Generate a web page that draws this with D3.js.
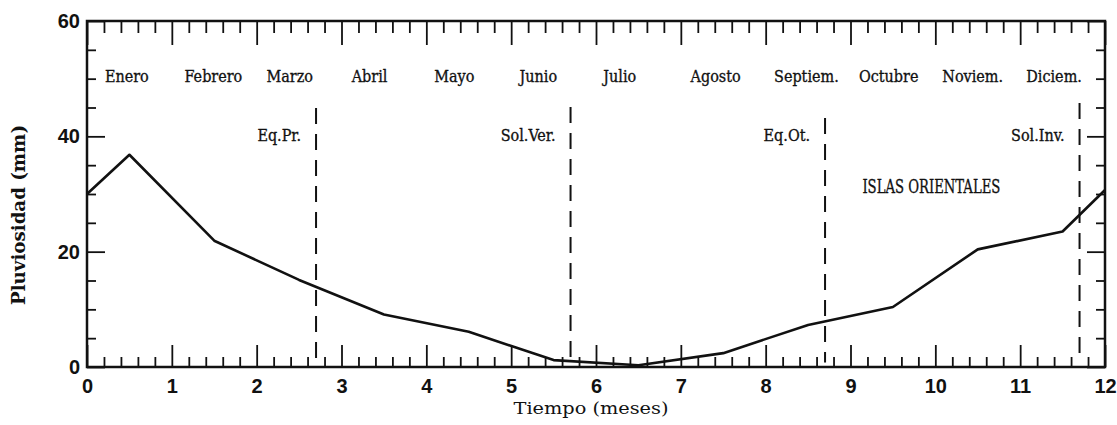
<!DOCTYPE html>
<html>
<head>
<meta charset="utf-8">
<script src="https://cdn.jsdelivr.net/npm/d3@7"></script>
<style>
  body { margin: 0; background: #fff; }
  svg { display: block; }
  .tick line { stroke: #111; stroke-width: 1.8; }
  .num text { font-family: "Liberation Sans", Arial, sans-serif; font-size: 20px; font-weight: bold; fill: #111; }
  .lbl { font-family: "DejaVu Serif Condensed", "DejaVu Serif", serif; font-size: 16px; fill: #111; stroke: #111; stroke-width: 0.3; }
</style>
</head>
<body>
<script>
// months written across the top of the plot, and where they sit (in months)
const meses = ["Enero", "Febrero", "Marzo", "Abril", "Mayo", "Junio", "Julio",
    "Agosto", "Septiem.", "Octubre", "Noviem.", "Diciem."];
const mesesPos = [0.47, 1.49, 2.39, 3.33, 4.33, 5.32, 6.28, 7.41, 8.48, 9.45, 10.44, 11.40];

// rainfall curve
const tiempo = [0, 0.5, 1.5, 2.5, 3.5, 4.5, 5.5, 6.5, 7.5, 8.5, 9.5, 10.5, 11.5, 12];
const pluviosidad = [30, 36.8, 21.9, 15.1, 9.1, 6.1, 1.2, 0.3, 2.4, 7.3, 10.4, 20.4, 23.5, 30.7];

// equinoxes / solstices (dashed lines)
const eventos = ["Eq.Pr.", "Sol.Ver.", "Eq.Ot.", "Sol.Inv."];
const eventosPos = [2.7, 5.7, 8.7, 11.7];
const eventosTope = [44.9, 45.1, 43.2, 45.8];

const xTicks = [0, 1, 2, 3, 4, 5, 6, 7, 8, 9, 10, 11, 12];
const yTicks = [0, 20, 40, 60];

// dimensions
const margin = {top: 21, right: 12, bottom: 58, left: 87},
    width = 1117 - margin.left - margin.right,
    height = 425 - margin.top - margin.bottom;

const x = d3.scaleLinear().domain([0, 12]).range([0, width]);
const y = d3.scaleLinear().domain([0, 60]).range([height, 0]);

const svg = d3.select("body").append("svg")
    .attr("width", 1117)
    .attr("height", 425)
    .append("g")
    .attr("transform", "translate(" + margin.left + "," + margin.top + ")");

const minorX = d3.range(0, 60).map(function (i) { return i / 5; }).filter(function (v) { return v % 1 !== 0; });
const minorY = d3.range(5, 60, 5).filter(function (v) { return v % 20 !== 0; });

function clean(g) {
    g.select(".domain").remove();
}

// bottom axis (ticks point up)
svg.append("g")
    .attr("transform", "translate(0," + height + ")")
    .call(d3.axisBottom(x).tickValues(minorX).tickSize(-10).tickFormat(""))
    .call(clean);
svg.append("g")
    .attr("class", "num")
    .attr("transform", "translate(0," + height + ")")
    .call(d3.axisBottom(x).tickValues(xTicks).tickSize(-22).tickPadding(12).tickFormat(d3.format("d")))
    .call(clean);

// top axis (ticks point down)
svg.append("g")
    .call(d3.axisTop(x).tickValues(minorX).tickSize(-12).tickFormat(""))
    .call(clean);
svg.append("g")
    .call(d3.axisTop(x).tickValues(xTicks).tickSize(-24).tickFormat(""))
    .call(clean);

// left axis
svg.append("g")
    .call(d3.axisLeft(y).tickValues(minorY).tickSize(-9).tickFormat(""))
    .call(clean);
svg.append("g")
    .attr("class", "num")
    .call(d3.axisLeft(y).tickValues(yTicks).tickSize(-18).tickPadding(7).tickFormat(d3.format("d")))
    .call(clean);

// right axis
svg.append("g")
    .attr("transform", "translate(" + width + ",0)")
    .call(d3.axisRight(y).tickValues(minorY).tickSize(-9).tickFormat(""))
    .call(clean);
svg.append("g")
    .attr("transform", "translate(" + width + ",0)")
    .call(d3.axisRight(y).tickValues(yTicks).tickSize(-18).tickFormat(""))
    .call(clean);

// frame
svg.append("rect")
    .attr("width", width)
    .attr("height", height)
    .attr("fill", "none")
    .attr("stroke", "#111")
    .attr("stroke-width", 2.5);

// month names
svg.selectAll(".mes")
    .data(meses)
    .enter().append("text")
    .attr("class", "lbl")
    .attr("x", function (d, i) { return x(mesesPos[i]); })
    .attr("y", 61)
    .attr("text-anchor", "middle")
    .text(function (d) { return d; });

// dashed lines for equinoxes and solstices
svg.selectAll(".evento")
    .data(eventos)
    .enter().append("line")
    .attr("x1", function (d, i) { return x(eventosPos[i]); })
    .attr("x2", function (d, i) { return x(eventosPos[i]); })
    .attr("y1", function (d, i) { return y(eventosTope[i]); })
    .attr("y2", y(0.8))
    .attr("stroke", "#111")
    .attr("stroke-width", 2)
    .attr("stroke-dasharray", "16,10");

svg.selectAll(".eventoLbl")
    .data(eventos)
    .enter().append("text")
    .attr("class", "lbl")
    .attr("x", function (d, i) { return x(eventosPos[i]) - 15; })
    .attr("y", 120)
    .attr("text-anchor", "end")
    .text(function (d) { return d; });

// rainfall line
const valueline = d3.line()
    .x(function (d, i) { return x(tiempo[i]); })
    .y(function (d) { return y(d); });

svg.append("path")
    .datum(pluviosidad)
    .attr("fill", "none")
    .attr("stroke", "#111")
    .attr("stroke-width", 2.6)
    .attr("stroke-linejoin", "round")
    .attr("d", valueline);

// station name
svg.append("text")
    .attr("class", "lbl")
    .attr("x", x(9.14))
    .attr("y", 172)
    .style("font-size", "18px")
    .attr("textLength", 138)
    .attr("lengthAdjust", "spacingAndGlyphs")
    .text("ISLAS ORIENTALES");

// axis titles
svg.append("text")
    .attr("x", x(6) - 5)
    .attr("y", height + 47)
    .attr("text-anchor", "middle")
    .attr("font-family", "DejaVu Serif, serif")
    .attr("font-size", "17px")
    .attr("textLength", 155)
    .attr("lengthAdjust", "spacingAndGlyphs")
    .attr("fill", "#111")
    .text("Tiempo (meses)");

svg.append("text")
    .attr("transform", "translate(" + (-62) + "," + (215 - margin.top) + ") rotate(-90)")
    .attr("text-anchor", "middle")
    .attr("font-family", "DejaVu Serif, serif")
    .attr("font-weight", "bold")
    .attr("font-size", "18px")
    .attr("textLength", 180)
    .attr("lengthAdjust", "spacingAndGlyphs")
    .attr("fill", "#111")
    .text("Pluviosidad (mm)");
</script>
</body>
</html>
